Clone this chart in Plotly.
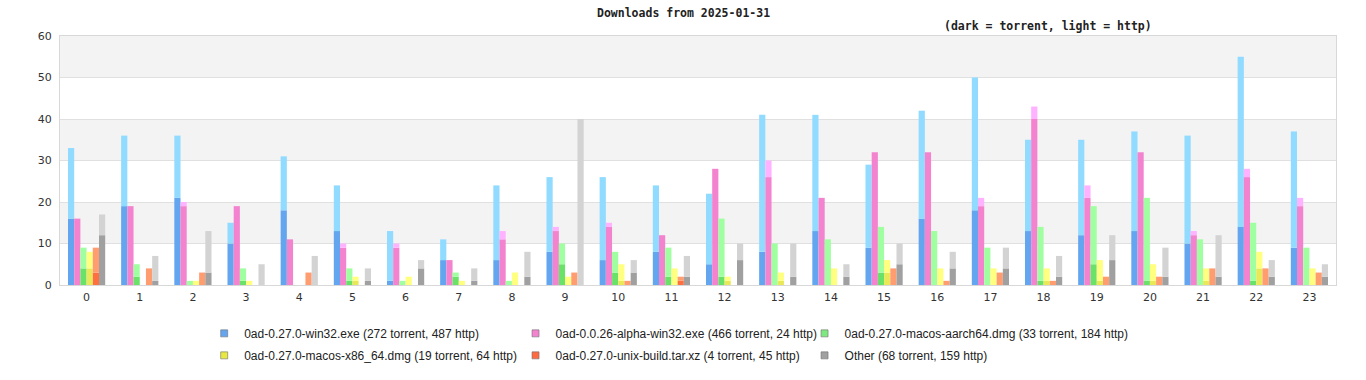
import plotly.graph_objects as go

hours = list(range(24))

series_names = [
    "0ad-0.27.0-win32.exe (272 torrent, 487 http)",
    "0ad-0.0.26-alpha-win32.exe (466 torrent, 24 http)",
    "0ad-0.27.0-macos-aarch64.dmg (33 torrent, 184 http)",
    "0ad-0.27.0-macos-x86_64.dmg (19 torrent, 64 http)",
    "0ad-0.27.0-unix-build.tar.xz (4 torrent, 45 http)",
    "Other (68 torrent, 159 http)",
]

win32_torrent = [16, 19, 21, 10, 18, 13, 1, 6, 6, 8, 6, 8, 5, 8, 13, 9, 16, 18, 13, 12, 13, 10, 14, 9]
win32_http = [17, 17, 15, 5, 13, 11, 12, 5, 18, 18, 20, 16, 17, 33, 28, 20, 26, 32, 22, 23, 24, 26, 41, 28]

alpha_torrent = [16, 19, 19, 19, 11, 9, 9, 6, 11, 13, 14, 12, 28, 26, 21, 32, 32, 19, 40, 21, 32, 12, 26, 19]
alpha_http = [0, 0, 1, 0, 0, 1, 1, 0, 2, 1, 1, 0, 0, 4, 0, 0, 0, 2, 3, 3, 0, 1, 2, 2]

aarch64_torrent = [4, 2, 0, 1, 0, 1, 0, 2, 0, 5, 3, 2, 2, 0, 0, 3, 0, 0, 1, 5, 1, 0, 1, 0]
aarch64_http = [5, 3, 1, 3, 0, 3, 1, 1, 1, 5, 5, 7, 14, 10, 11, 11, 13, 9, 13, 14, 20, 11, 14, 9]

x86_torrent = [4, 0, 0, 0, 0, 1, 0, 0, 0, 0, 1, 0, 1, 1, 0, 3, 0, 0, 1, 1, 1, 1, 4, 0]
x86_http = [4, 0, 1, 1, 0, 1, 2, 1, 3, 2, 4, 4, 1, 2, 4, 3, 4, 4, 3, 5, 4, 3, 4, 4]

unix_torrent = [3, 0, 0, 0, 0, 0, 0, 0, 0, 0, 0, 1, 0, 0, 0, 0, 0, 0, 0, 0, 0, 0, 0, 0]
unix_http = [6, 4, 3, 0, 3, 0, 0, 0, 0, 3, 1, 1, 0, 0, 0, 4, 1, 3, 1, 2, 2, 4, 4, 3]

other_torrent = [12, 1, 3, 0, 0, 1, 4, 1, 2, 0, 3, 2, 6, 2, 2, 5, 4, 4, 2, 6, 2, 2, 2, 2]
other_http = [5, 6, 10, 5, 7, 3, 2, 3, 6, 40, 3, 5, 4, 8, 3, 5, 4, 5, 5, 6, 7, 10, 4, 3]

torrent_values = [win32_torrent, alpha_torrent, aarch64_torrent, x86_torrent, unix_torrent, other_torrent]
http_values = [win32_http, alpha_http, aarch64_http, x86_http, unix_http, other_http]

dark_colors = ["#63a6ef", "#f383cf", "#6ae26a", "#e8e858", "#ff7040", "#a0a0a0"]
light_colors = ["#90dbff", "#ffb2ff", "#a0ffa0", "#ffff80", "#ff9c70", "#d3d3d3"]
legend_colors = ["#63a6ef", "#f383cf", "#80e880", "#e8e840", "#ff6a40", "#a0a0a0"]

fig = go.Figure()

for i in range(6):
    fig.add_trace(go.Bar(
        x=hours, y=torrent_values[i], offsetgroup=str(i),
        marker=dict(color=dark_colors[i], line=dict(width=0)),
        showlegend=False, hoverinfo="skip",
    ))
    fig.add_trace(go.Bar(
        x=hours, y=http_values[i], base=torrent_values[i], offsetgroup=str(i),
        marker=dict(color=light_colors[i], line=dict(width=0)),
        showlegend=False, hoverinfo="skip",
    ))

legend_ids = ["legend", "legend2", "legend3", "legend", "legend2", "legend3"]
for i in range(6):
    fig.add_trace(go.Scatter(
        x=[None], y=[None], mode="markers", name=series_names[i],
        marker=dict(symbol="square", size=7, color=legend_colors[i],
                    line=dict(color="#707070", width=0.6)),
        legend=legend_ids[i], legendgroup="g%d" % i, showlegend=True,
    ))

# alternating background bands
shapes = []
for lo in (10, 30, 50):
    shapes.append(dict(type="rect", xref="paper", yref="y", x0=0, x1=1, y0=lo, y1=lo + 10,
                       fillcolor="#f3f3f3", line=dict(width=0), layer="below"))

legend_font = dict(family="Liberation Sans, Arial, sans-serif", size=12, color="#222222")
leg_common = dict(orientation="v", yanchor="top", y=-0.136, xanchor="left",
                  font=legend_font, bgcolor="rgba(0,0,0,0)", tracegroupgap=3,
                  itemwidth=30)

fig.update_layout(
    width=1366, height=380,
    margin=dict(l=60, r=30, t=36, b=95, autoexpand=False),
    paper_bgcolor="white", plot_bgcolor="white",
    barmode="group", bargap=0.3, bargroupgap=0,
    shapes=shapes,
    font=dict(family="DejaVu Sans, sans-serif", size=11, color="#333333"),
    legend=dict(x=0.113, **leg_common),
    legend2=dict(x=0.357, **leg_common),
    legend3=dict(x=0.5835, **leg_common),
    annotations=[
        dict(text="<b>Downloads from 2025-01-31</b>", xref="paper", yref="paper",
             x=(683 - 60) / 1276, y=1, yshift=23, xanchor="center", yanchor="middle",
             showarrow=False, font=dict(family="DejaVu Sans Mono, monospace", size=11.5, color="#222222")),
        dict(text="<b>(dark = torrent, light = http)</b>", xref="paper", yref="paper",
             x=(1048 - 60) / 1276, y=1, yshift=10, xanchor="center", yanchor="middle",
             showarrow=False, font=dict(family="DejaVu Sans Mono, monospace", size=11.5, color="#222222")),
    ],
    showlegend=True,
)

fig.update_xaxes(
    tickmode="array", tickvals=hours, ticktext=[str(h) for h in hours],
    range=[-0.5, 23.5], showgrid=False, zeroline=False, automargin=False,
    showline=True, linecolor="#d8d8d8", linewidth=1, mirror=True,
    ticks="", tickfont=dict(size=11, color="#333333"), ticklabelstandoff=2,
)
fig.update_yaxes(
    range=[0, 60], dtick=10, showgrid=True, gridcolor="#e0e0e0", gridwidth=1,
    zeroline=False, showline=True, linecolor="#d8d8d8", linewidth=1, mirror=True,
    ticks="", tickfont=dict(size=11, color="#333333"), automargin=False,
    ticklabelstandoff=5,
)

fig.write_html(
    "out.html",
    config={"displayModeBar": False},
    post_script="document.body.style.margin='0';document.body.style.overflow='hidden';",
)
